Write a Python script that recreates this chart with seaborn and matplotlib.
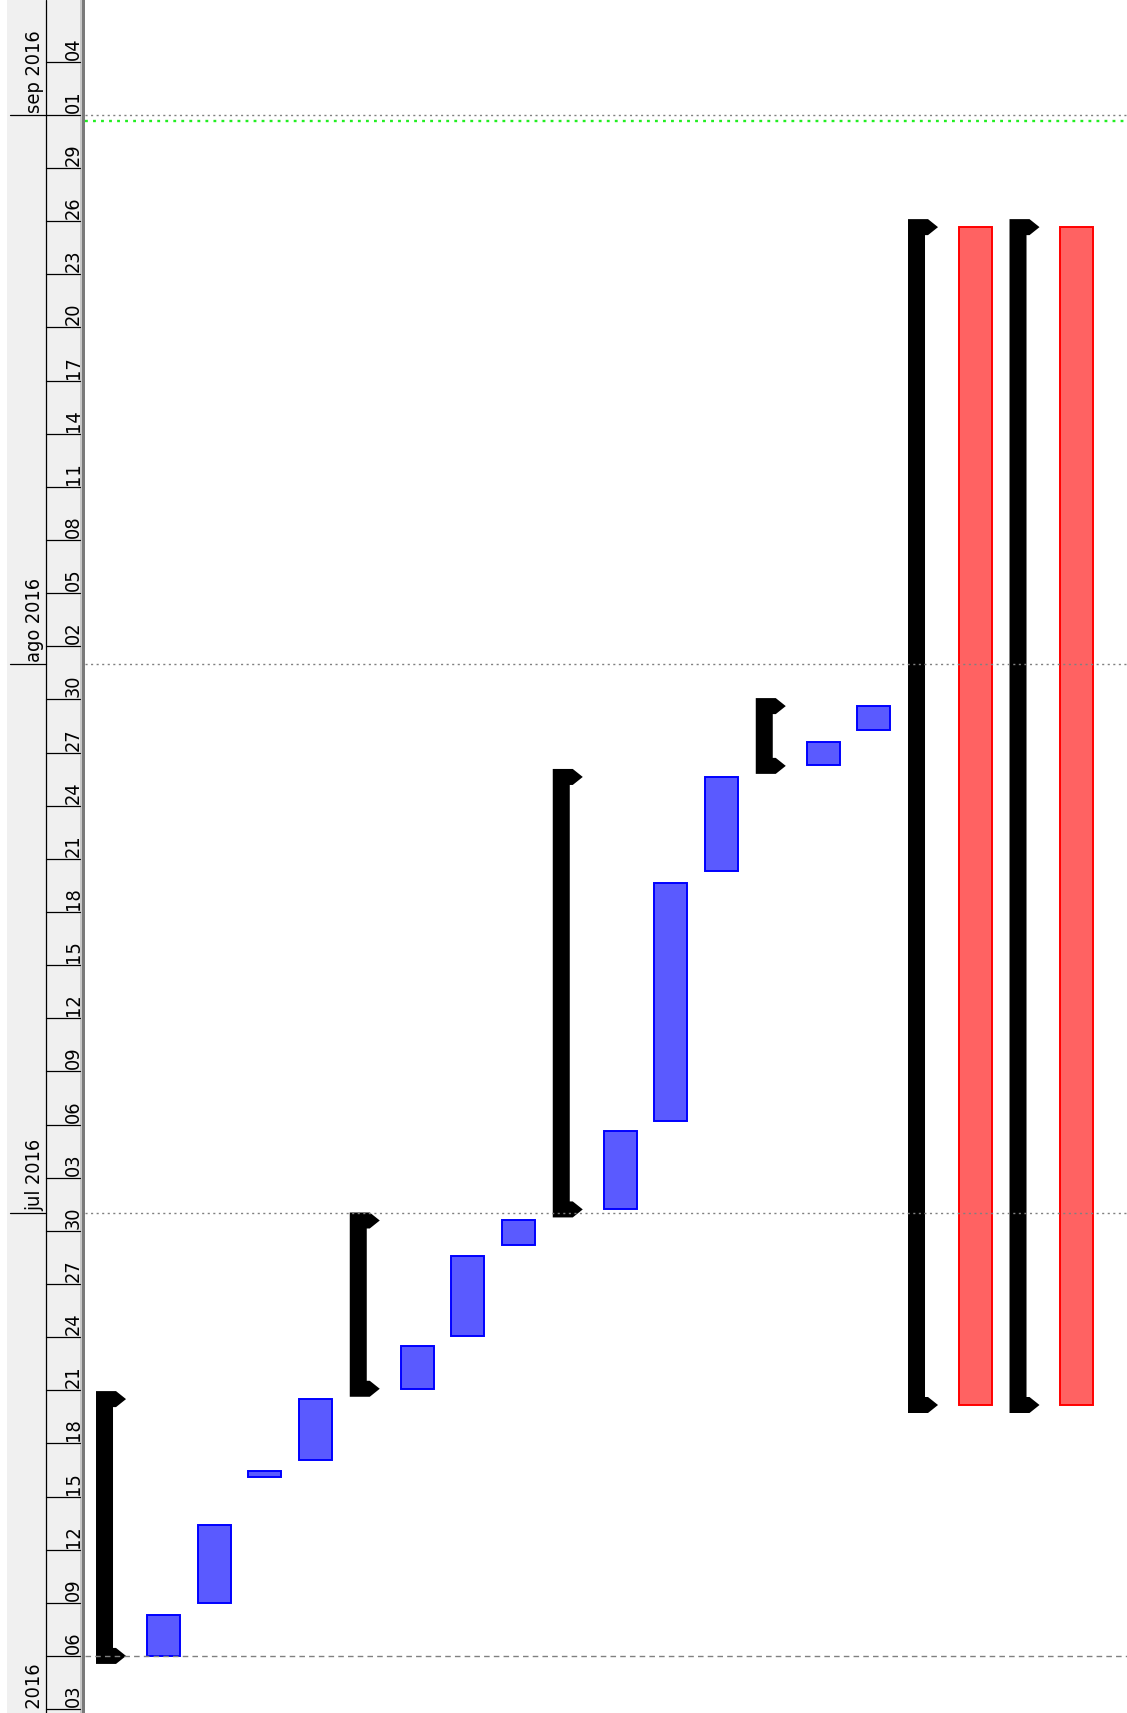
import numpy as np
import pandas as pd
import seaborn as sns
import matplotlib
matplotlib.use('Agg')
import matplotlib.pyplot as plt
import matplotlib.dates as mdates
from matplotlib import font_manager
from matplotlib.textpath import TextPath

sns.set_theme(style='white')

# gantt rows, bottom (start) to top (end) on a vertical time axis
kinds = ['summary', 'task', 'task', 'task', 'task',
         'summary', 'task', 'task', 'task',
         'summary', 'task', 'task', 'task',
         'summary', 'task', 'task',
         'summary', 'critical', 'summary', 'critical']
starts = ['2016-06-06 00:00', '2016-06-06 00:00', '2016-06-09 00:00', '2016-06-16 02:00', '2016-06-17 01:00',
          '2016-06-21 02:00', '2016-06-21 02:00', '2016-06-24 02:00', '2016-06-29 05:00',
          '2016-07-01 05:00', '2016-07-01 05:00', '2016-07-06 05:00', '2016-07-20 07:00',
          '2016-07-26 06:00', '2016-07-26 07:00', '2016-07-28 07:00',
          '2016-06-20 04:00', '2016-06-20 04:00', '2016-06-20 04:00', '2016-06-20 04:00']
ends = ['2016-06-20 12:00', '2016-06-08 08:00', '2016-06-13 10:00', '2016-06-16 10:00', '2016-06-20 12:00',
        '2016-06-30 14:00', '2016-06-23 12:00', '2016-06-28 14:00', '2016-06-30 14:00',
        '2016-07-25 15:00', '2016-07-05 15:00', '2016-07-19 15:00', '2016-07-25 15:00',
        '2016-07-29 15:00', '2016-07-27 15:00', '2016-07-29 15:00',
        '2016-08-25 16:00', '2016-08-25 16:00', '2016-08-25 16:00', '2016-08-25 16:00']

month_names = ['jun', 'jul', 'ago', 'sep']
month_starts = ['2016-06-01', '2016-07-01', '2016-08-01', '2016-09-01']
project_start = '2016-06-06'
today = '2016-08-31 16:00'
view = ('2016-06-02 18:40', '2016-09-07 11:45')

df = pd.DataFrame({'row': np.arange(len(kinds)), 'kind': kinds,
                   'start': mdates.date2num(pd.to_datetime(starts)),
                   'end': mdates.date2num(pd.to_datetime(ends))})
df['dur'] = df['end'] - df['start']

# narrow font for the timescale, if one is installed
fp = font_manager.FontProperties(family='Roboto')
for f in font_manager.fontManager.ttflist:
    if f.style == 'normal' and f.weight in (400, 'normal', 'regular') and \
            ('Narrow' in f.name or 'Condensed' in f.name or f.stretch in ('condensed', 'semi-condensed')):
        fp = font_manager.FontProperties(fname=f.fname)
        break
tw = TextPath((0, 0), 'ago 2016', size=1, prop=fp).get_extents().width
fsize = min(17, 82 * 0.72 / tw)
fp.set_size(fsize)

W, H = 1127, 1713
fig = plt.figure(figsize=(W / 100, H / 100), dpi=100)
hx = fig.add_axes([0, 0, 85 / W, 1])
ax = fig.add_axes([85 / W, 0, 1 - 85 / W, 1], sharey=hx)

ymin, ymax = mdates.date2num(pd.to_datetime(view))
dpp = (ymax - ymin) / H  # days per pixel
order = list(range(len(kinds)))
barw = 0.65

# plain bars: task (blue) and critical (red)
for kind, face, edge in [('task', '#5a5aff', '#0000ff'), ('critical', '#ff6262', '#ff0000')]:
    sub = df[df['kind'] == kind].sort_values('row')
    sns.barplot(data=sub, x='row', y='dur', order=order, bottom=sub['start'].values,
                width=barw, color=face, saturation=1, edgecolor=edge, linewidth=1.4,
                errorbar=None, ax=ax)

# summary brackets
cap = 8 * dpp
for _, r in df[df['kind'] == 'summary'].iterrows():
    L = r['row'] - barw / 2
    v, f, t = 17 / 50.74, 20 / 50.74, 30 / 50.74
    s, e = r['start'], r['end']
    xs = [L, L + f, L + t, L + f, L + v, L + v, L + f, L + t, L + f, L]
    ys = [s - cap, s - cap, s, s + cap, s + cap, e - cap, e - cap, e, e + cap, e + cap]
    ax.fill(xs, ys, color='black', lw=0)

# reference lines
for m in month_starts[1:]:
    ax.axhline(mdates.date2num(pd.Timestamp(m)), color='#808080', lw=1, ls=(0, (1.5, 2.5)))
ax.axhline(mdates.date2num(pd.Timestamp(project_start)), color='#808080', lw=1, ls=(0, (4, 3)))
ax.axhline(mdates.date2num(pd.Timestamp(today)), color='#22ee22', lw=1.7, ls=(0, (1.2, 2.2)))

ax.set_xlim(-0.542, 19.99)
ax.set_ylim(ymin, ymax)
ax.axis('off')

# timescale header on the left
hx.set_xlim(0, 85)
hx.axis('off')
hx.axvspan(7, 80, color='#f0f0f0', lw=0)
hx.axvspan(80, 82, color='#c8c8c8', lw=0)
hx.axvspan(82, 85, color='#7a7a7a', lw=0)
hx.axvline(46, color='black', lw=0.9)
days = pd.date_range('2016-06-03', '2016-09-06', freq='3D')
for d in days:
    y = mdates.date2num(d)
    hx.plot([46, 80], [y, y], color='black', lw=0.9)
    hx.text(83, y + 2 * dpp, d.strftime('%d'), rotation=90, ha='right', va='bottom',
            fontproperties=fp, color='black')
for name, m in zip(month_names, month_starts):
    y = mdates.date2num(pd.Timestamp(m))
    hx.plot([10, 46], [y, y], color='black', lw=0.9)
    hx.text(44, y + 2 * dpp, f'{name} 2016', rotation=90, ha='right', va='bottom',
            fontproperties=fp, color='black')
hx.set_ylim(ymin, ymax)

fig.savefig('out.png', dpi=100)
